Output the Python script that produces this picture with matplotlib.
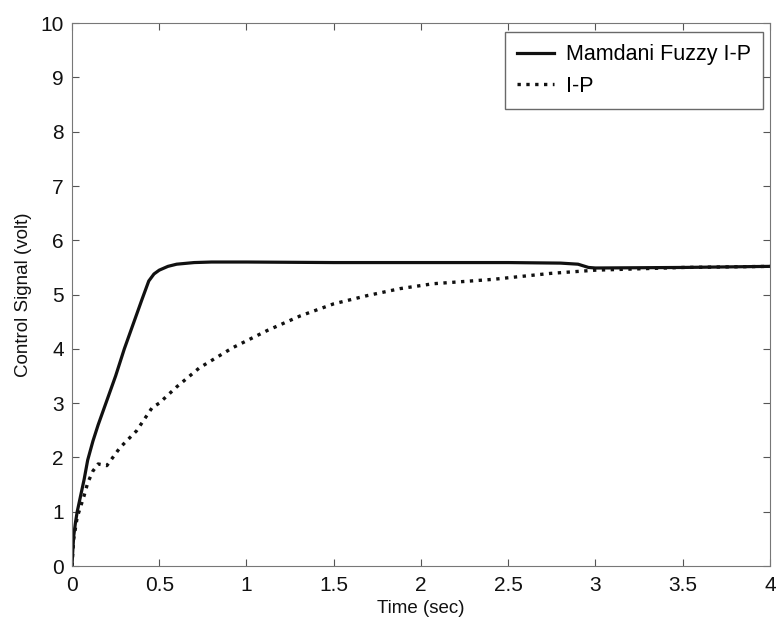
import matplotlib
matplotlib.use("Agg")
import matplotlib.pyplot as plt

plt.rcParams['font.family'] = ['Liberation Sans', 'DejaVu Sans']

# Mamdani Fuzzy I-P
fuzzy_t = [0, 0.005, 0.01, 0.02, 0.03, 0.05, 0.07, 0.09, 0.12, 0.15, 0.2, 0.25, 0.3,
           0.35, 0.4, 0.44, 0.47, 0.5, 0.55, 0.6, 0.7, 0.8, 1.0, 1.5, 2.0, 2.5, 2.8,
           2.9, 2.96, 3.0, 3.5, 4.0]
fuzzy_y = [0, 0.3, 0.55, 0.8, 1.0, 1.3, 1.6, 1.95, 2.3, 2.6, 3.05, 3.5, 4.0,
           4.45, 4.9, 5.25, 5.38, 5.45, 5.52, 5.56, 5.59, 5.6, 5.6, 5.59, 5.59, 5.59, 5.58,
           5.56, 5.5, 5.49, 5.5, 5.52]

# I-P
ip_t = [0, 0.01, 0.03, 0.05, 0.07, 0.09, 0.12, 0.15, 0.2, 0.275, 0.37, 0.46, 0.5, 0.6,
        0.73, 0.92, 1.12, 1.31, 1.5, 1.69, 1.88, 2.07, 2.41, 2.74, 3.0, 3.5, 4.0]
ip_y = [0, 0.5, 0.9, 1.1, 1.3, 1.53, 1.75, 1.88, 1.85, 2.18, 2.49, 2.92, 3.0, 3.3,
        3.65, 4.02, 4.34, 4.61, 4.83, 4.98, 5.11, 5.2, 5.28, 5.39, 5.45, 5.5, 5.52]

xticks = [0, 0.5, 1, 1.5, 2, 2.5, 3, 3.5, 4]
xticklabels = ['0', '0.5', '1', '1.5', '2', '2.5', '3', '3.5', '4']
yticks = list(range(0, 11))

fig = plt.figure(figsize=(7.78, 6.26), dpi=100)
ax = fig.add_axes([0.0925, 0.0958, 0.8972, 0.8672])

ax.plot(fuzzy_t, fuzzy_y, color='#111111', lw=2.3, label='Mamdani Fuzzy I-P')
ax.plot(ip_t, ip_y, color='#111111', lw=2.4, ls=':', label='I-P')

ax.set_xlim(0, 4)
ax.set_ylim(0, 10)
ax.set_xticks(xticks)
ax.set_xticklabels(xticklabels)
ax.set_yticks(yticks)
ax.tick_params(direction='in', length=5, width=0.8, top=True, right=True,
               labelsize=15, colors='#555555', labelcolor='#111111')
ax.tick_params(axis='x', pad=7)
ax.tick_params(axis='y', pad=6)
for s in ax.spines.values():
    s.set_color('#777777')
    s.set_linewidth(0.8)

ax.set_xlabel('Time (sec)', fontsize=13.5, color='#111111', labelpad=4)
ax.set_ylabel('Control Signal (volt)', fontsize=13.5, color='#111111', labelpad=6)

leg = ax.legend(loc='upper right', fontsize=15.5, frameon=True, fancybox=False,
                edgecolor='#444444', handlelength=1.72, handletextpad=0.56,
                borderpad=0.55, labelspacing=0.5, borderaxespad=0,
                bbox_to_anchor=(0.99, 0.983))
leg.get_frame().set_linewidth(1.0)

fig.savefig('out.png', dpi=100, facecolor='white')
